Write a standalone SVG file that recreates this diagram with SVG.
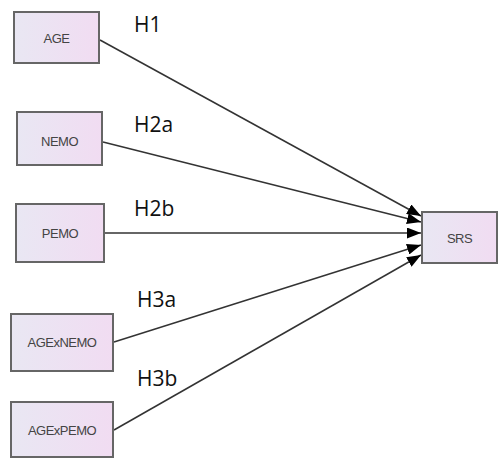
<svg xmlns="http://www.w3.org/2000/svg" width="499" height="459" viewBox="0 0 499 459">
<defs>
<linearGradient id="g" x1="0" y1="0" x2="1" y2="0">
<stop offset="0" stop-color="#e9e7f3"/>
<stop offset="1" stop-color="#f1dcf2"/>
</linearGradient>
<marker id="arr" viewBox="0 0 14 11" refX="14" refY="5.5" markerWidth="14" markerHeight="11" markerUnits="userSpaceOnUse" orient="auto">
<path d="M0,0 L14,5.5 L0,11 Z" fill="#000"/>
</marker>
<style>
.box{fill:url(#g);stroke:#666;stroke-width:2}
.t{font-family:"Liberation Sans",Arial,sans-serif;font-size:13px;fill:#444;text-anchor:middle;letter-spacing:-0.5px}
.h{font-family:"Open Sans","Liberation Sans",sans-serif;font-size:21px;fill:#111}
.c{stroke:#333;stroke-width:1.5;fill:none;marker-end:url(#arr)}
</style>
</defs>
<rect width="499" height="459" fill="#fff"/>
<g id="connectors">
<line class="c" x1="100" y1="40" x2="421" y2="216"/>
<line class="c" x1="103" y1="142" x2="421" y2="222"/>
<line class="c" x1="105" y1="233" x2="421" y2="233"/>
<line class="c" x1="114" y1="342" x2="421" y2="245"/>
<line class="c" x1="114" y1="430" x2="421" y2="255"/>
</g>
<g id="labels">
<text class="h" x="134" y="32">H1</text>
<text class="h" x="134" y="132">H2a</text>
<text class="h" x="134" y="216">H2b</text>
<text class="h" x="137" y="307">H3a</text>
<text class="h" x="137" y="386">H3b</text>
</g>
<g id="AGE"><rect class="box" x="14" y="12" width="85" height="51"/><text class="t" x="56.5" y="43">AGE</text></g>
<g id="NEMO"><rect class="box" x="17" y="112" width="85" height="53"/><text class="t" x="59.5" y="146">NEMO</text></g>
<g id="PEMO"><rect class="box" x="16" y="204" width="88" height="58"/><text class="t" x="60" y="238">PEMO</text></g>
<g id="AGExNEMO"><rect class="box" x="11" y="314" width="102" height="57"/><text class="t" x="62" y="347">AGExNEMO</text></g>
<g id="AGExPEMO"><rect class="box" x="11" y="402" width="102" height="55"/><text class="t" x="62" y="435">AGExPEMO</text></g>
<g id="SRS"><rect class="box" x="422" y="212" width="75" height="51"/><text class="t" x="459.5" y="243">SRS</text></g>
</svg>
